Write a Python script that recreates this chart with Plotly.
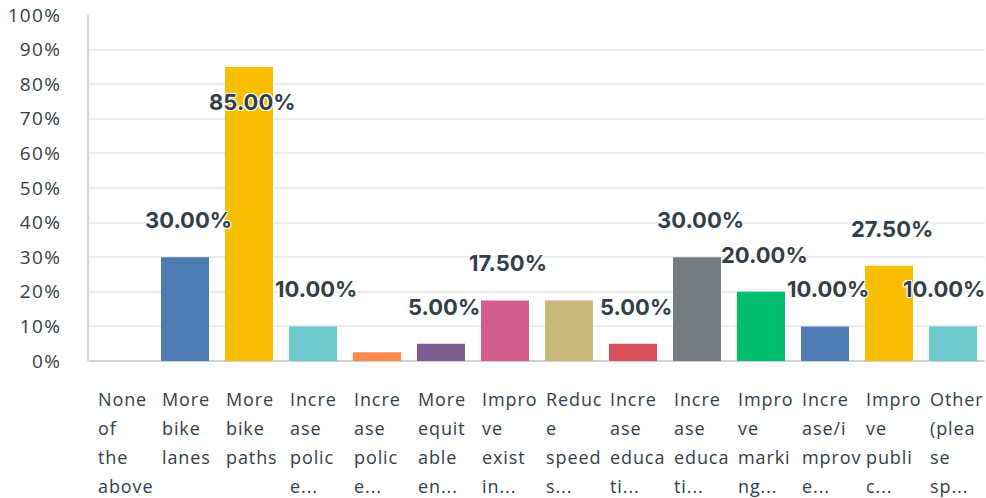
import plotly.graph_objects as go

categories = [
    "None of the above", "More bike lanes", "More bike paths", "Increase police e...",
    "Increase police e...", "More equitable en...", "Improve existin...", "Reduce speeds...",
    "Increase educati...", "Increase educati...", "Improve marking...", "Increase/improve...",
    "Improve public...", "Other (please sp...",
]
category_lines = [
    ["None", "of", "the", "above"],
    ["More", "bike", "lanes"],
    ["More", "bike", "paths"],
    ["Incre", "ase", "polic", "e..."],
    ["Incre", "ase", "polic", "e..."],
    ["More", "equit", "able", "en..."],
    ["Impro", "ve", "exist", "in..."],
    ["Reduc", "e", "speed", "s..."],
    ["Incre", "ase", "educa", "ti..."],
    ["Incre", "ase", "educa", "ti..."],
    ["Impro", "ve", "marki", "ng..."],
    ["Incre", "ase/i", "mprov", "e..."],
    ["Impro", "ve", "publi", "c..."],
    ["Other", "(plea", "se", "sp..."],
]
values = [0, 30, 85, 10, 2.5, 5, 17.5, 17.5, 5, 30, 20, 10, 27.5, 10]
bar_labels = ["", "30.00%", "85.00%", "10.00%", "", "5.00%", "17.50%", "",
              "5.00%", "30.00%", "20.00%", "10.00%", "27.50%", "10.00%"]
colors = ["#4f7bb5", "#4f7bb5", "#f8be00", "#6cc8cc", "#ff8b4f", "#7d5e91", "#d45d8f",
          "#c8b77a", "#da4e5e", "#747c83", "#00bf6f", "#4f7bb5", "#f8be00", "#6cc8cc"]
y_ticks = [0, 10, 20, 30, 40, 50, 60, 70, 80, 90, 100]
y_tick_labels = [f"{t}%" for t in y_ticks]

TEXT = "#333e48"
x_idx = list(range(len(categories)))

fig = go.Figure()
fig.add_trace(go.Bar(
    x=x_idx, y=values, marker=dict(color=colors, line=dict(width=0)),
    hoverinfo="skip", showlegend=False,
))

ann = []
outline = "-1px -1px 0 #fff, 1px -1px 0 #fff, -1px 1px 0 #fff, 1px 1px 0 #fff, 0 0 2px #fff"
for i, (v, lab) in enumerate(zip(values, bar_labels)):
    if not lab:
        continue
    shift = -35 if v > 80 else 37
    xs = -9 if i == len(values) - 1 else 3
    ann.append(dict(
        x=i, y=v, xref="x", yref="y", text=lab, showarrow=False,
        yshift=shift, xshift=xs, xanchor="center", yanchor="middle",
        font=dict(family="Inter", size=22, color=TEXT, weight="bold", shadow=outline),
    ))

for i, lines in enumerate(category_lines):
    for j, ln in enumerate(lines):
        ann.append(dict(
            x=i, y=0, xref="x", yref="y", showarrow=False,
            text=f'<span style="letter-spacing:0.9px">{ln}</span>',
            xanchor="left", yanchor="middle", xshift=-25, yshift=-(38 + 29 * j),
            font=dict(family="Open Sans", size=18, color=TEXT),
        ))

fig.update_layout(
    width=986, height=498,
    margin=dict(l=89, r=1, t=15, b=137),
    paper_bgcolor="white", plot_bgcolor="white",
    bargap=0.25,
    annotations=ann,
    xaxis=dict(
        range=[-0.5, 13.5], showticklabels=False, showgrid=False, zeroline=False,
        showline=False, fixedrange=True,
    ),
    yaxis=dict(
        range=[0, 100], tickvals=y_ticks,
        ticktext=[f'<span style="letter-spacing:1.3px">{t}</span>' for t in y_tick_labels],
        tickfont=dict(family="Open Sans", size=19, color=TEXT),
        showgrid=True, gridcolor="#ececec", gridwidth=2,
        showline=True, linecolor="#d6d6d6", linewidth=2,
        zeroline=True, zerolinecolor="#d0d0d0", zerolinewidth=2,
        ticks="", ticklabelstandoff=22, fixedrange=True,
    ),
)

fig.write_html(
    "out.html",
    config={"displayModeBar": False},
    post_script="document.body.style.margin='0px';document.body.style.overflow='hidden';",
)
